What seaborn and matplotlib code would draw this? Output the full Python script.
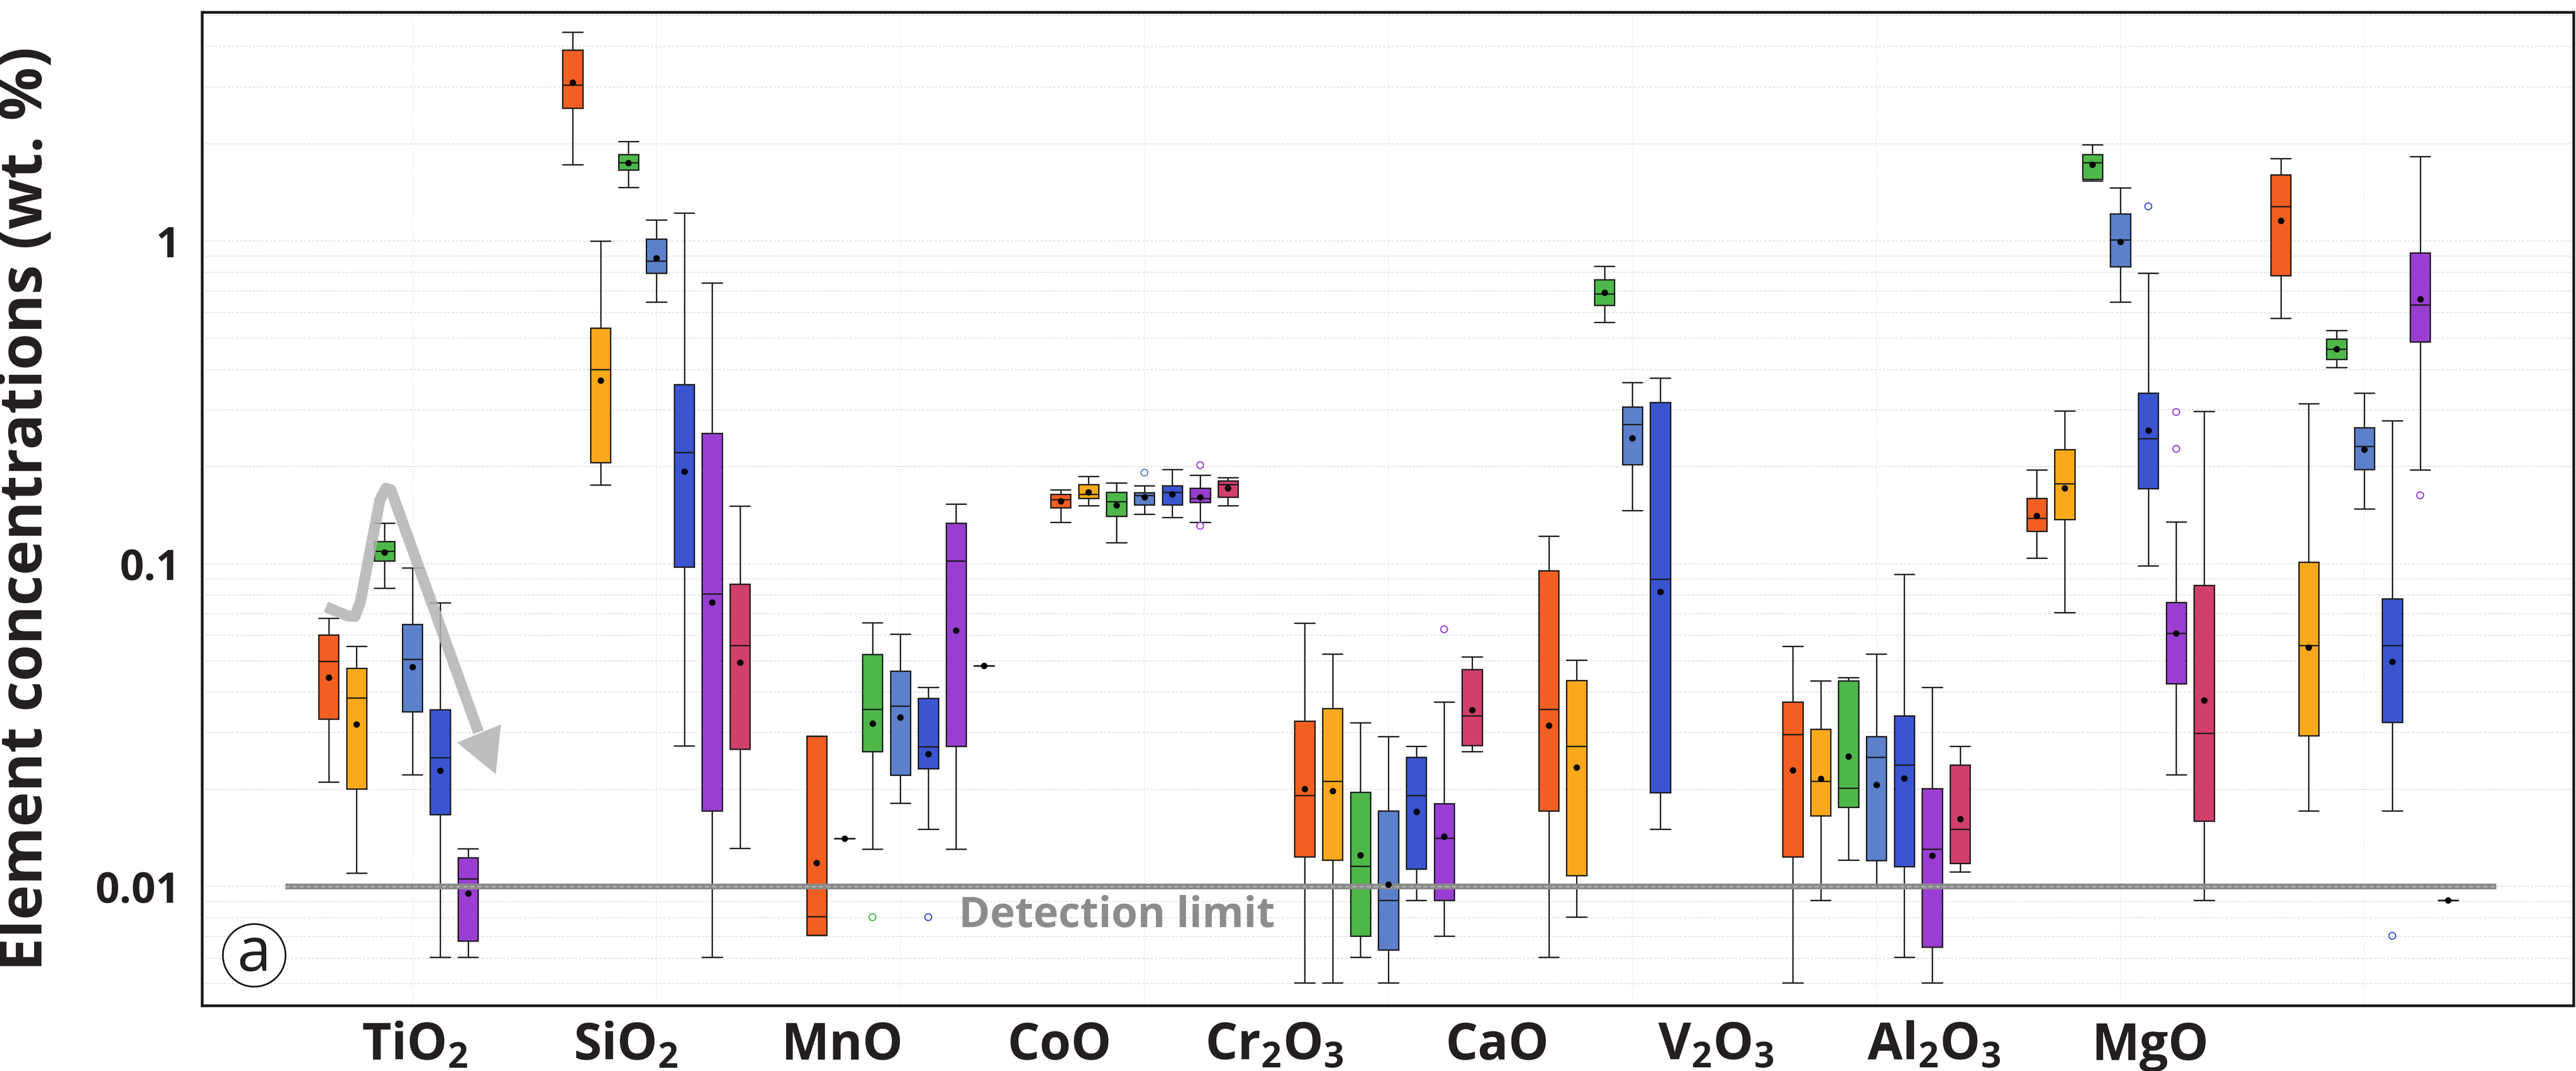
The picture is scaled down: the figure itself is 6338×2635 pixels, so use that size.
import numpy as np
import pandas as pd
import seaborn as sns
import matplotlib.pyplot as plt
from matplotlib.ticker import LogLocator, FixedLocator, FixedFormatter, NullFormatter

# =============================================================================
# Data
# each box: (lower whisker, Q1, median, Q3, upper whisker, mean); None = no data
# =============================================================================

element_keys = ["TiO2", "SiO2", "MnO", "CoO", "Cr2O3", "CaO", "V2O3", "Al2O3", "MgO"]
element_labels = ["TiO$_2$", "SiO$_2$", "MnO", "CoO", "Cr$_2$O$_3$", "CaO",
                  "V$_2$O$_3$", "Al$_2$O$_3$", "MgO"]
# label positions as placed in the figure (slightly off the group centres)
label_pos = [0.01, 0.874, 1.762, 2.653, 3.532, 4.446, 5.342, 6.235, 7.122]

group_names = ["G1", "G2", "G3", "G4", "G5", "G6", "G7"]
group_colors = ["#F15F22", "#FBA91C", "#4DB74A", "#5C80C9", "#3A55CF", "#9A3ED2", "#D13F6B"]

tio2 = [
    (0.0211, 0.0331, 0.0499, 0.0603, 0.0678, 0.0444),
    (0.0110, 0.0201, 0.0384, 0.0475, 0.0555, 0.0318),
    (0.0840, 0.1020, 0.1094, 0.1173, 0.1336, 0.1086),
    (0.0222, 0.0348, 0.0506, 0.0650, 0.0971, 0.0479),
    (0.00604, 0.0167, 0.0251, 0.0353, 0.0757, 0.0229),
    (0.00604, 0.00678, 0.01057, 0.0123, 0.0131, 0.00953),
    None,
]
sio2 = [
    (1.725, 2.585, 3.05, 3.91, 4.44, 3.10),
    (0.1755, 0.206, 0.400, 0.538, 1.00, 0.370),
    (1.469, 1.66, 1.750, 1.854, 2.035, 1.745),
    (0.647, 0.795, 0.867, 1.014, 1.163, 0.885),
    (0.0273, 0.0977, 0.2217, 0.3593, 1.221, 0.1934),
    (0.00605, 0.01716, 0.0808, 0.254, 0.742, 0.0759),
    (0.01314, 0.0267, 0.0558, 0.0865, 0.151, 0.0494),
]
mno = [
    (0.00707, 0.00707, 0.00807, 0.0293, 0.0293, 0.01185),
    (0.0141, 0.0141, 0.0141, 0.0141, 0.0141, 0.0141),
    (0.01308, 0.0262, 0.03545, 0.0524, 0.0657, 0.03205),
    (0.01812, 0.02218, 0.03628, 0.0466, 0.0606, 0.0334),
    (0.01508, 0.02318, 0.02715, 0.0383, 0.0414, 0.02577),
    (0.01308, 0.02722, 0.1022, 0.1338, 0.1531, 0.0622),
    (0.0484, 0.0484, 0.0484, 0.0484, 0.0484, 0.0484),
]
coo = [
    (0.1345, 0.1494, 0.1582, 0.1644, 0.1695, 0.1564),
    (0.1514, 0.1596, 0.1644, 0.1760, 0.1865, 0.1668),
    (0.1163, 0.1404, 0.1560, 0.1668, 0.1783, 0.1518),
    (0.1426, 0.1525, 0.1630, 0.1661, 0.1744, 0.1608),
    (0.1393, 0.1525, 0.1668, 0.1744, 0.1963, 0.1641),
    (0.1345, 0.1552, 0.1596, 0.1718, 0.1885, 0.1608),
    (0.1514, 0.1608, 0.1764, 0.1810, 0.1848, 0.1716),
]
cr2o3 = [
    (0.00504, 0.01236, 0.01914, 0.0326, 0.0656, 0.02005),
    (0.00504, 0.01210, 0.02123, 0.0356, 0.0525, 0.0198),
    (0.00605, 0.00703, 0.01158, 0.01964, 0.0322, 0.01252),
    (0.00504, 0.00637, 0.00906, 0.01717, 0.0292, 0.01015),
    (0.00906, 0.01134, 0.01914, 0.02518, 0.02722, 0.01708),
    (0.00703, 0.00906, 0.01414, 0.01808, 0.0373, 0.01432),
    (0.02624, 0.02735, 0.0338, 0.0471, 0.0515, 0.03526),
]
cao = [
    (0.00605, 0.01717, 0.03545, 0.0953, 0.1219, 0.03155),
    (0.00806, 0.01083, 0.02722, 0.0436, 0.0504, 0.02342),
    (0.5595, 0.6327, 0.686, 0.759, 0.836, 0.693),
    (0.1462, 0.2030, 0.2706, 0.3064, 0.365, 0.2449),
    (0.01508, 0.01954, 0.0896, 0.3166, 0.377, 0.0820),
    None,
    None,
]
v2o3 = [
    (0.00504, 0.01236, 0.02964, 0.0373, 0.0555, 0.02294),
    (0.00906, 0.0166, 0.02123, 0.03074, 0.0434, 0.02156),
    (0.01210, 0.01762, 0.02021, 0.0434, 0.0445, 0.02532),
    (0.01004, 0.01204, 0.02518, 0.0292, 0.0525, 0.02068),
    (0.00605, 0.01155, 0.02385, 0.0338, 0.0929, 0.02167),
    (0.00504, 0.0065, 0.01308, 0.02015, 0.0414, 0.01248),
    (0.01111, 0.0118, 0.01508, 0.02385, 0.02722, 0.01618),
]
al2o3 = [
    (0.1042, 0.1261, 0.1383, 0.1594, 0.1953, 0.1411),
    (0.0707, 0.1374, 0.1770, 0.2259, 0.2974, 0.1717),
    (1.535, 1.557, 1.750, 1.856, 1.987, 1.725),
    (0.6475, 0.834, 1.009, 1.2147, 1.462, 0.9945),
    (0.0987, 0.1712, 0.2443, 0.3387, 0.795, 0.259),
    (0.02222, 0.0425, 0.0609, 0.0759, 0.1349, 0.0609),
    (0.00906, 0.01595, 0.02991, 0.0857, 0.297, 0.0378),
]
mgo = [
    (0.576, 0.783, 1.281, 1.603, 1.802, 1.157),
    (0.01716, 0.02934, 0.0558, 0.1012, 0.3133, 0.0550),
    (0.4057, 0.430, 0.4628, 0.498, 0.528, 0.4628),
    (0.1479, 0.1963, 0.2316, 0.2642, 0.3387, 0.2261),
    (0.01716, 0.0323, 0.0558, 0.0781, 0.2774, 0.0497),
    (0.1953, 0.488, 0.635, 0.920, 1.829, 0.6605),
    (0.00906, 0.00906, 0.00906, 0.00906, 0.00906, 0.00906),
]

box_stats = [tio2, sio2, mno, coo, cr2o3, cao, v2o3, al2o3, mgo]

# outliers: (element, group, value)
outliers = [
    ("MnO", "G3", 0.00804), ("MnO", "G5", 0.00804),
    ("CoO", "G4", 0.1917), ("CoO", "G6", 0.2022), ("CoO", "G6", 0.1312),
    ("Cr2O3", "G6", 0.0627),
    ("Al2O3", "G5", 1.281), ("Al2O3", "G6", 0.2955), ("Al2O3", "G6", 0.2272),
    ("MgO", "G5", 0.00704), ("MgO", "G6", 0.1631),
]

detection_limit = 0.01

# =============================================================================
# Long tables for seaborn
# =============================================================================

rows = []
mean_rows = []
for elem, boxes in zip(element_keys, box_stats):
    for grp, st in zip(group_names, boxes):
        if st is None:
            continue
        lo, q1, med, q3, hi, mean = st
        # five points -> quartiles / whiskers land exactly on the read values
        for v in (lo, q1, med, q3, hi):
            rows.append({"element": elem, "group": grp, "value": v})
        mean_rows.append({"element": elem, "group": grp, "mean": mean})

box_df = pd.DataFrame(rows)
mean_df = pd.DataFrame(mean_rows)
out_df = pd.DataFrame(outliers, columns=["element", "group", "value"])

palette = dict(zip(group_names, group_colors))

# =============================================================================
# Style
# =============================================================================

sns.set_style("white")
plt.rcParams["font.family"] = ["Open Sans", "DejaVu Sans"]
plt.rcParams["mathtext.fontset"] = "custom"
plt.rcParams["mathtext.rm"] = "Open Sans:bold"
plt.rcParams["mathtext.it"] = "Open Sans:bold"
plt.rcParams["mathtext.bf"] = "Open Sans:bold"
plt.rcParams["mathtext.default"] = "rm"

text_color = "#231f20"
line_color = "#1a1a1a"

W, H = 6338, 2635
fig = plt.figure(figsize=(W / 300, H / 300), dpi=300)
ax = fig.add_axes([497 / W, (H - 2474) / H, (6332 - 497) / W, (2474 - 30) / H])
ax.set_yscale("log")

gap = 0.28
box_w = 0.8 / len(group_names) * (1 - gap)

sns.boxplot(
    data=box_df, x="element", y="value", hue="group",
    order=element_keys, hue_order=group_names,
    palette=palette, saturation=1,
    width=0.8, gap=gap, whis=(0, 100), showfliers=False,
    linecolor=line_color, linewidth=0.8,
    capwidths=box_w, legend=False, ax=ax,
)

sns.stripplot(
    data=mean_df, x="element", y="mean", hue="group",
    order=element_keys, hue_order=group_names,
    palette={g: "black" for g in group_names},
    dodge=True, jitter=False, size=3.8, linewidth=0,
    legend=False, zorder=6, ax=ax,
)

n_before = len(ax.collections)
sns.stripplot(
    data=out_df, x="element", y="value", hue="group",
    order=element_keys, hue_order=group_names,
    palette=palette, dodge=True, jitter=False, size=4.0,
    legend=False, zorder=6, ax=ax,
)
for coll in ax.collections[n_before:]:
    fc = coll.get_facecolor()
    coll.set_edgecolor(fc)
    coll.set_facecolor("none")
    coll.set_linewidth(0.7)

# detection limit band
ax.hlines(detection_limit, -0.52, 8.54, color="#8a8a8a", lw=3.4, zorder=4)
ax.hlines(detection_limit, -0.52, 8.54, color="#c8c8c8", lw=0.6,
          linestyles=(0, (4, 3)), zorder=4)
ax.text(2.887, 0.0075, "Detection limit", ha="center", va="baseline",
        color="#8c8c8c", fontsize=25, fontweight="bold", zorder=4)

# trend arrow (annotation)
arrow_x = [-0.354, -0.266, -0.235, -0.213, -0.133, -0.108, -0.088, 0.271]
arrow_y = [0.0736, 0.0690, 0.0687, 0.0763, 0.1576, 0.1715, 0.1695, 0.0301]
ax.plot(arrow_x, arrow_y, color="#b3b3b3", lw=6.5, alpha=0.85,
        solid_joinstyle="round", solid_capstyle="butt", zorder=7)
ax.annotate("", xy=(0.342, 0.0223), xytext=(0.271, 0.0301),
            arrowprops=dict(arrowstyle="-|>,head_length=26,head_width=14",
                            mutation_scale=1, color="#b3b3b3", lw=0,
                            alpha=0.85, shrinkA=0, shrinkB=0),
            zorder=7)

# panel letter
ax.plot([0.0219], [0.0507], marker="o", ms=37, mfc="white", mec=line_color,
        mew=1.0, transform=ax.transAxes, clip_on=False, zorder=8)
ax.text(0.0219, 0.0507, "a", transform=ax.transAxes, ha="center",
        va="center", fontsize=36, fontweight="normal", color=text_color, zorder=9)

# =============================================================================
# Axes
# =============================================================================

ax.set_xlim(-0.862, 8.857)
ax.set_ylim(0.00428, 5.12)

ax.xaxis.set_major_locator(FixedLocator(range(len(element_keys))))
ax.xaxis.set_major_formatter(NullFormatter())
ax.xaxis.set_minor_locator(FixedLocator(label_pos))
ax.xaxis.set_minor_formatter(FixedFormatter(element_labels))
ax.tick_params(axis="x", which="both", length=0, pad=9,
               labelsize=30, labelcolor=text_color)
for lab in ax.get_xticklabels(minor=True):
    lab.set_fontweight("bold")

ax.yaxis.set_major_locator(FixedLocator([0.01, 0.1, 1]))
ax.yaxis.set_major_formatter(FixedFormatter(["0.01", "0.1", "1"]))
ax.yaxis.set_minor_locator(LogLocator(base=10, subs=np.arange(2, 10)))
ax.yaxis.set_minor_formatter(NullFormatter())
ax.tick_params(axis="y", which="both", length=0, pad=13,
               labelsize=25, labelcolor=text_color)
for lab in ax.get_yticklabels():
    lab.set_fontweight("bold")

ax.set_axisbelow(True)
ax.yaxis.grid(True, which="both", linestyle=(0, (3, 2)), color="#dcdcdc", lw=0.5)
ax.xaxis.grid(True, which="major", linestyle=(0, (1, 2)), color="#dddddd", lw=0.5)
ax.xaxis.grid(False, which="minor")

ax.set_xlabel("")
ax.set_ylabel("Element concentrations (wt. %)", fontsize=35,
              fontweight="bold", color=text_color)
ax.yaxis.set_label_coords(-0.0615, 0.5)

for spine in ax.spines.values():
    spine.set_color(line_color)
    spine.set_linewidth(1.6)

fig.savefig("out.png", dpi=300, facecolor="white")
